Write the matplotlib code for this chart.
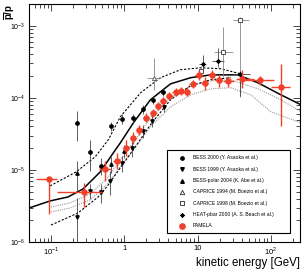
import matplotlib
matplotlib.use('Agg')
import matplotlib.pyplot as plt
import matplotlib.ticker as mticker
from matplotlib.patches import Rectangle

plt.rcParams['font.family'] = ['Liberation Sans', 'DejaVu Sans']
plt.rcParams['mathtext.fontset'] = 'custom'
plt.rcParams['mathtext.rm'] = 'Liberation Sans'
plt.rcParams['mathtext.bf'] = 'Liberation Sans:bold'

# ---- PAMELA pbar/p ----
pam_E = [0.094, 0.283, 0.549, 0.80, 1.065, 1.33, 1.60, 2.0, 2.50, 2.92, 3.42, 4.13,
         5.0, 5.85, 7.07, 8.54, 10.3, 12.5, 15.6, 19.4, 25.8, 40.1, 70.7, 137]
pam_r = [7.5e-6, 4.95e-6, 1.03e-5, 1.33e-5, 2.02e-5, 2.78e-5, 3.59e-5, 5.27e-5,
         6.19e-5, 7.74e-5, 9.08e-5, 1.07e-4, 1.21e-4, 1.25e-4, 1.21e-4, 1.56e-4,
         2.08e-4, 1.62e-4, 2.08e-4, 1.78e-4, 1.72e-4, 1.84e-4, 1.78e-4, 1.42e-4]
pam_lo = [5.05e-6, 1.9e-6, 3.3e-6, 3.0e-6, 4.5e-6, 5e-6, 5e-6, 7e-6, 7e-6, 9e-6,
          1.0e-5, 1.2e-5, 1.4e-5, 1.5e-5, 1.5e-5, 2.0e-5, 3.0e-5, 3.3e-5, 3.0e-5,
          3.6e-5, 3.0e-5, 4.6e-5, 2.6e-5, 1.02e-4]
pam_hi = [0, 1.65e-6, 3.0e-6, 3.9e-6, 5.9e-6, 6e-6, 6e-6, 8e-6, 8e-6, 1.0e-5,
          1.1e-5, 1.4e-5, 1.6e-5, 1.7e-5, 1.8e-5, 2.3e-5, 3.7e-5, 3.4e-5, 3.7e-5,
          3.0e-5, 3.0e-5, 6.1e-5, 2.4e-5, 1.55e-4]
pam_Elo = [0.062, 0.121, 0.455, 0.71, 0.97, 1.20, 1.45, 1.80, 2.25, 2.65, 3.1, 3.75,
           4.5, 5.3, 6.4, 7.7, 9.3, 11.3, 14.0, 17.5, 22.0, 33.0, 43.0, 100.0]
pam_Ehi = [0.121, 0.50, 0.664, 0.91, 1.17, 1.45, 1.75, 2.20, 2.75, 3.2, 3.75, 4.55,
           5.5, 6.4, 7.8, 9.4, 11.3, 13.8, 17.2, 21.5, 31.9, 58.0, 110.0, 182.0]

# ---- other experiments ----
b00_E = [0.227, 0.342, 0.484, 0.664, 0.939, 1.33, 1.82, 2.50, 3.42]
b00_r = [4.50e-5, 1.78e-5, 1.14e-5, 4.08e-5, 5.11e-5, 5.2e-5, 7.03e-5, 9.38e-5, 1.21e-4]
b00_err = [2.0e-5, 8e-6, 3e-6, 6e-6, 8e-6, 8e-6, 1.0e-5, 1.2e-5, 1.5e-5]

b99_E = [0.227, 0.342, 0.484, 0.643, 0.939, 1.287, 1.82, 2.42, 3.53]
b99_r = [2.22e-6, 5.11e-6, 4.95e-6, 7.03e-6, 1.25e-5, 2.02e-5, 3.48e-5, 4.8e-5, 7.5e-5]
b99_err = [1.9e-6, 1.2e-6, 1.5e-6, 2.5e-6, 3e-6, 5e-6, 7e-6, 9e-6, 1.2e-5]

bp_E = [0.227, 0.664, 1.0]
bp_r = [9.1e-6, 1.21e-5, 1.84e-5]
bp_err = [4e-6, 3e-6, 4e-6]

c94_E = [2.58]
c94_r = [1.90e-4]
c94_lo = [0.61e-4]
c94_hi = [1.70e-4]
c94_Elo = [2.07]
c94_Ehi = [3.21]

c98_E = [11.0, 22.0, 37.7]
c98_r = [2.37e-4, 4.35e-4, 1.21e-3]
c98_lo = [4e-5, 2.39e-4, 1.107e-3]
c98_hi = [4e-5, 5.35e-4, 1.0e-4]
c98_Elo = [10.0, 16.5, 30.0]
c98_Ehi = [12.0, 30.0, 50.0]

heat_E = [11.7, 18.8, 37.7]
heat_r = [2.97e-4, 3.27e-4, 2.15e-4]
heat_lo = [0.67e-4, 0.57e-4, 1.1e-4]
heat_hi = [0.98e-4, 1.67e-4, 0.2e-4]
heat_Elo = [10.5, 15.5, 30.0]
heat_Ehi = [13.0, 23.0, 52.0]

# ---- model curves ----
up_E = [0.0969, 0.220, 0.401, 0.604, 0.882, 1.66, 3.11, 5.85, 11.0, 20.6, 38.7]
up_r = [6.0e-6, 9.38e-6, 1.52e-5, 2.61e-5, 5.45e-5, 1.17e-4, 1.90e-4, 2.45e-4,
        2.61e-4, 2.53e-4, 2.15e-4]
mid_E = [0.050, 0.0969, 0.171, 0.274, 0.469, 0.707, 0.882, 1.33, 2.27, 4.27, 8.03,
         15.1, 35.3, 66.5, 137, 258]
mid_r = [2.96e-6, 3.71e-6, 4.22e-6, 5.45e-6, 9.38e-6, 1.72e-5, 2.37e-5, 4.50e-5,
         9.38e-5, 1.56e-4, 1.90e-4, 2.08e-4, 2.08e-4, 1.62e-4, 1.10e-4, 8.0e-5]
low_E = [0.100, 0.234, 0.440, 0.604, 0.882, 1.415, 2.27, 4.27, 8.03, 15.1, 28.3]
low_r = [1.72e-6, 2.53e-6, 4.22e-6, 6.19e-6, 1.07e-5, 2.09e-5, 4.22e-5, 9.38e-5,
         1.47e-4, 1.78e-4, 1.90e-4]
g1_E = [0.100, 0.182, 0.342, 0.604, 0.882, 1.415, 2.27, 4.27, 8.03, 15.1, 28.3,
        66.5, 137, 258]
g1_r = [3.06e-6, 3.48e-6, 4.64e-6, 8.0e-6, 1.38e-5, 2.61e-5, 5.27e-5, 1.0e-4,
        1.47e-4, 1.72e-4, 1.78e-4, 1.33e-4, 9.38e-5, 6.39e-5]
g2_E = [0.100, 0.182, 0.342, 0.604, 0.882, 1.415, 2.27, 4.27, 8.03, 15.1, 28.3,
        53.2, 100, 258]
g2_r = [2.61e-6, 2.96e-6, 3.83e-6, 6.6e-6, 1.10e-5, 2.09e-5, 3.96e-5, 7.5e-5,
        1.10e-4, 1.33e-4, 1.38e-4, 1.10e-4, 6.39e-5, 4.50e-5]

legend_labels = ['BESS 2000 (Y. Asaoka et al.)', 'BESS 1999 (Y. Asaoka et al.)',
                 'BESS-polar 2004 (K. Abe et al.)', 'CAPRICE 1994 (M. Boezio et al.)',
                 'CAPRICE 1998 (M. Boezio et al.)', 'HEAT-pbar 2000 (A. S. Beach et al.)',
                 'PAMELA']

red = '#f0402a'
ecol = '#444444'

fig = plt.figure(figsize=(3.05, 2.72), dpi=100)
ax = fig.add_axes([29 / 305, 1 - 242 / 272, 271 / 305, 238 / 272])
ax.set_xscale('log')
ax.set_yscale('log')
ax.set_xlim(0.05, 250)
ax.set_ylim(1e-6, 2e-3)

# curves
ax.plot(g1_E, g1_r, color='#999999', lw=0.8, ls=(0, (1, 1)))
ax.plot(g2_E, g2_r, color='#999999', lw=0.8, ls=(0, (1, 1)))
ax.plot(up_E, up_r, color='black', lw=0.8, ls=(0, (2, 1.5)))
ax.plot(low_E, low_r, color='black', lw=0.8, ls=(0, (2, 1.5)))
ax.plot(mid_E, mid_r, color='black', lw=1.1)

# other experiments
def xerr(E, lo, hi):
    return [[e - a for e, a in zip(E, lo)], [b - e for e, b in zip(E, hi)]]

ax.errorbar(b00_E, b00_r, yerr=b00_err, fmt='o', ms=2.4, color='black',
            ecolor=ecol, elinewidth=0.6, capsize=0)
ax.errorbar(b99_E, b99_r, yerr=b99_err, fmt='v', ms=2.4, color='black',
            ecolor=ecol, elinewidth=0.6, capsize=0)
ax.errorbar(bp_E, bp_r, yerr=bp_err, fmt='^', ms=2.4, color='black',
            ecolor=ecol, elinewidth=0.6, capsize=0)
ax.errorbar(c94_E, c94_r, yerr=[c94_lo, c94_hi], xerr=xerr(c94_E, c94_Elo, c94_Ehi),
            fmt='^', ms=3, mfc='white', mec='#555555', mew=0.6, ecolor='#888888',
            elinewidth=0.6, capsize=0)
ax.errorbar(c98_E, c98_r, yerr=[c98_lo, c98_hi], xerr=xerr(c98_E, c98_Elo, c98_Ehi),
            fmt='s', ms=2.8, mfc='white', mec='#333333', mew=0.6, ecolor='#888888',
            elinewidth=0.6, capsize=0)
ax.errorbar(heat_E, heat_r, yerr=[heat_lo, heat_hi], xerr=xerr(heat_E, heat_Elo, heat_Ehi),
            fmt='none', ecolor=ecol, elinewidth=0.6, capsize=0)
ax.plot(heat_E, heat_r, ls='none', marker=(8, 2, 0), ms=3.2, mec='black', mew=0.6)

# PAMELA
ax.errorbar(pam_E, pam_r, yerr=[pam_lo, pam_hi], xerr=xerr(pam_E, pam_Elo, pam_Ehi),
            fmt='o', ms=3.6, color=red, ecolor=red, elinewidth=1.0, capsize=0, zorder=5)

# axes style (ROOT-like)
ax.xaxis.set_major_locator(mticker.FixedLocator([0.1, 1, 10, 100]))
ax.xaxis.set_major_formatter(mticker.FixedFormatter(['$10^{-1}$', '1', '10', '$10^{2}$']))
ax.xaxis.set_minor_locator(mticker.LogLocator(base=10, subs=range(2, 10), numticks=20))
ax.xaxis.set_minor_formatter(mticker.NullFormatter())
ax.yaxis.set_minor_locator(mticker.LogLocator(base=10, subs=range(2, 10), numticks=20))
ax.yaxis.set_minor_formatter(mticker.NullFormatter())
ax.tick_params(which='both', direction='in', top=True, right=True, width=0.5)
ax.tick_params(which='major', length=5)
ax.tick_params(which='minor', length=2.8)
ax.tick_params(axis='x', which='major', labelsize=5.5, pad=2)
ax.tick_params(axis='y', which='major', labelsize=5, pad=3)
for s in ax.spines.values():
    s.set_linewidth(0.8)

fig.text(300 / 305, 1 - 263 / 272, 'kinetic energy [GeV]', ha='right', va='center',
         fontsize=8.3)
fig.text(10 / 305, 1 - 12 / 272, r'$\overline{\mathbf{p}}\mathbf{/p}$', rotation=90,
         ha='center', va='center', fontsize=7)

# legend box
x0, x1 = (167 - 29) / 271, (290 - 29) / 271
y0, y1 = (242 - 233) / 238, (242 - 150) / 238
ax.add_patch(Rectangle((x0, y0), x1 - x0, y1 - y0, transform=ax.transAxes,
                       facecolor='white', edgecolor='black', lw=0.8, zorder=10))
leg_style = [dict(marker='o', ms=2.4, mfc='black', mec='black'),
             dict(marker='v', ms=2.6, mfc='black', mec='black'),
             dict(marker='^', ms=2.6, mfc='black', mec='black'),
             dict(marker='^', ms=3.2, mfc='white', mec='black', mew=0.5),
             dict(marker='s', ms=3.0, mfc='white', mec='black', mew=0.5),
             dict(marker=(8, 2, 0), ms=3.2, mec='black', mew=0.5),
             dict(marker='o', ms=3.8, mfc=red, mec=red)]
for i, (lab, st) in enumerate(zip(legend_labels, leg_style)):
    yy = (242 - 158 - 11.3 * i) / 238
    ax.plot([(182 - 29) / 271], [yy], transform=ax.transAxes, ls='none',
            zorder=11, clip_on=False, **st)
    ax.text((193 - 29) / 271, yy, lab, transform=ax.transAxes, fontsize=3.6,
            va='center', ha='left', zorder=11)

fig.savefig('out.png', dpi=100)
